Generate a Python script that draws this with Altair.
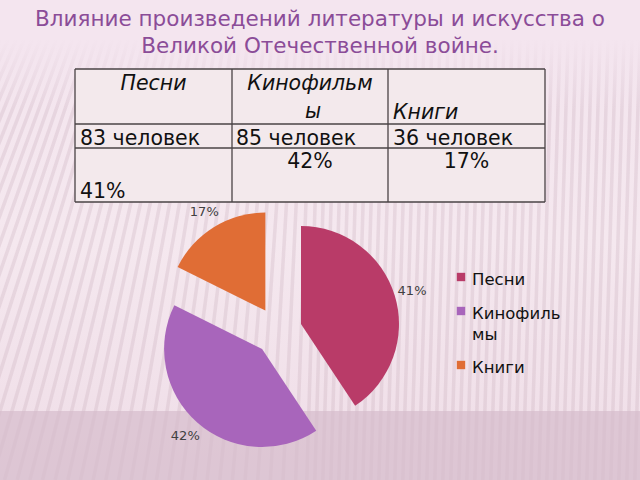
import altair as alt
import pandas as pd

# ---------------- data ----------------
title_lines = ["Влияние произведений литературы и искусства о", "Великой Отечественной войне."]
categories = ["Песни", "Кинофильмы", "Книги"]
counts = [83, 85, 36]
percent_labels = ["41%", "42%", "17%"]
colors = ["#b93b68", "#a865bb", "#e06d35"]
count_texts = ["83 человек", "85 человек", "36 человек"]
table_percents = ["41%", "42%", "17%"]
legend_labels = ["Песни", "Кинофиль\nмы", "Книги"]

# ---------------- layout / style ----------------
W, H = 640, 480
FONT = "DejaVu Sans"
BG = "#f3e5ed"
col_edges = [75, 232, 388, 545]
row_edges = [69, 124, 148, 202]
CX, CY, R, EXPLODE, LABEL_R = 278, 331, 98, 24, 140


def px(f):
    return alt.X(f, scale=None, axis=None)


def py(f):
    return alt.Y(f, scale=None, axis=None)


one = pd.DataFrame({"k": [0]})

# background gradient
bg = alt.Chart(one).mark_rect(
    color=alt.LinearGradient(
        gradient="linear", x1=0, y1=0, x2=0, y2=1,
        stops=[alt.GradientStop(color="#f3e4ee", offset=0),
               alt.GradientStop(color="#f5e8ef", offset=0.5),
               alt.GradientStop(color="#efdde7", offset=1)])
).encode(x=alt.value(0), x2=alt.value(W), y=alt.value(0), y2=alt.value(H))

bottom_band = alt.Chart(one).mark_rect(color="#d6bccc", opacity=0.7).encode(
    x=alt.value(0), x2=alt.value(W), y=alt.value(411), y2=alt.value(H))

# decorative stripes (fan)
stripe_rows = []
for i in range(-30, 90):
    xt = i * 8
    s = max(0.03, 0.45 * (1 - xt / 340))
    stripe_rows.append({"x": xt, "y": 40, "x2": xt - s * 440, "y2": H})
stripes = alt.Chart(pd.DataFrame(stripe_rows)).mark_rule(
    color="#c9aebd", strokeWidth=3.5, opacity=0.3
).encode(x=px("x:Q"), y=py("y:Q"), x2="x2:Q", y2="y2:Q")

top_fade = alt.Chart(one).mark_rect(
    color=alt.LinearGradient(
        gradient="linear", x1=0, y1=0, x2=0, y2=1,
        stops=[alt.GradientStop(color="rgba(244,229,239,1)", offset=0),
               alt.GradientStop(color="rgba(244,229,239,1)", offset=0.35),
               alt.GradientStop(color="rgba(244,229,239,0)", offset=1)])
).encode(x=alt.value(0), x2=alt.value(W), y=alt.value(0), y2=alt.value(110))

# title
title_df = pd.DataFrame({"t": title_lines, "x": [W / 2, W / 2], "y": [26, 53]})
title = alt.Chart(title_df).mark_text(
    font=FONT, fontSize=21.5, color="#8b4c98", align="center", baseline="alphabetic"
).encode(x=px("x:Q"), y=py("y:Q"), text="t:N")

# table
table_bg = alt.Chart(one).mark_rect(color="#f3e9ec").encode(
    x=alt.value(col_edges[0]), x2=alt.value(col_edges[-1]),
    y=alt.value(row_edges[0]), y2=alt.value(row_edges[-1]))

grid_rows = []
for xe in col_edges:
    grid_rows.append({"x": xe, "y": row_edges[0], "x2": xe, "y2": row_edges[-1]})
for ye in row_edges:
    grid_rows.append({"x": col_edges[0], "y": ye, "x2": col_edges[-1], "y2": ye})
grid = alt.Chart(pd.DataFrame(grid_rows)).mark_rule(color="#4a4346", strokeWidth=1.3).encode(
    x=px("x:Q"), y=py("y:Q"), x2="x2:Q", y2="y2:Q")

cc = [(col_edges[i] + col_edges[i + 1]) / 2 for i in range(3)]
hdr_center = pd.DataFrame({"t": [categories[0], categories[1][:-1], categories[1][-1]],
                           "x": [cc[0], cc[1], cc[1] + 3], "y": [90, 90, 118]})
hdr_left = pd.DataFrame({"t": [categories[2]], "x": [col_edges[2] + 5], "y": [119]})
body_left = pd.DataFrame({"t": count_texts + [table_percents[0]],
                          "x": [col_edges[0] + 5, col_edges[1] + 4, col_edges[2] + 5, col_edges[0] + 5],
                          "y": [145, 145, 145, 198]})
body_center = pd.DataFrame({"t": table_percents[1:], "x": [cc[1], cc[2]], "y": [168, 168]})


def tlayer(df, align, style="normal"):
    return alt.Chart(df).mark_text(
        font=FONT, fontSize=20.5, color="#111111", align=align, baseline="alphabetic",
        fontStyle=style
    ).encode(x=px("x:Q"), y=py("y:Q"), text="t:N")


table_layers = [
    table_bg, grid,
    tlayer(hdr_center, "center", "italic"),
    tlayer(hdr_left, "left", "italic"),
    tlayer(body_left, "left"),
    tlayer(body_center, "center"),
]

# pie (exploded)
pie_df = pd.DataFrame({"cat": categories, "count": counts, "label": percent_labels,
                       "order": list(range(len(categories)))})
pie_base = alt.Chart(pie_df).transform_window(
    cum="sum(count)", sort=[alt.SortField("order")], frame=[None, 0]
).transform_joinaggregate(total="sum(count)").transform_calculate(
    start="2*PI*(datum.cum-datum.count)/datum.total",
    end="2*PI*datum.cum/datum.total",
).transform_calculate(
    mid="(datum.start+datum.end)/2"
).transform_calculate(
    px=f"{CX}+{EXPLODE}*sin(datum.mid)",
    py=f"{CY}-{EXPLODE}*cos(datum.mid)",
    lx=f"{CX}+{LABEL_R}*sin(datum.mid)",
    ly=f"{CY}-{LABEL_R}*cos(datum.mid)",
)

arcs = pie_base.mark_arc(radius=R, stroke=None).encode(
    theta=alt.Theta("start:Q", scale=None, stack=None),
    theta2="end:Q",
    x=px("px:Q"), y=py("py:Q"),
    color=alt.Color("cat:N", scale=alt.Scale(domain=categories, range=colors), legend=None),
)
pie_labels = pie_base.mark_text(
    font=FONT, fontSize=13, color="#404040", align="center", baseline="middle"
).encode(x=px("lx:Q"), y=py("ly:Q"), text="label:N")

# legend (manual, wrapped labels)
leg_rows = []
yb = 285
for i, (cat, lab) in enumerate(zip(categories, legend_labels)):
    leg_rows.append({"cat": cat, "t": lab, "x": 472, "y": yb, "sx": 461, "sy": yb - 8})
    yb += 34 + 20 * lab.count("\n")
leg_df = pd.DataFrame(leg_rows)
leg_sq = alt.Chart(leg_df).mark_square(size=70, opacity=1, filled=True).encode(
    x=px("sx:Q"), y=py("sy:Q"),
    color=alt.Color("cat:N", scale=alt.Scale(domain=categories, range=colors), legend=None))
leg_txt = alt.Chart(leg_df).mark_text(
    font=FONT, fontSize=16.5, color="#111111", align="left", baseline="alphabetic",
    lineBreak="\n", lineHeight=21
).encode(x=px("x:Q"), y=py("y:Q"), text="t:N")

chart = alt.layer(
    bg, stripes, bottom_band, top_fade, title, *table_layers, arcs, pie_labels, leg_sq, leg_txt
).properties(
    width=W, height=H, autosize=alt.AutoSizeParams(type="none"), padding=0, background=BG
).configure_view(stroke=None)

chart.save("out.html", embed_options={"renderer": "svg", "actions": False})
